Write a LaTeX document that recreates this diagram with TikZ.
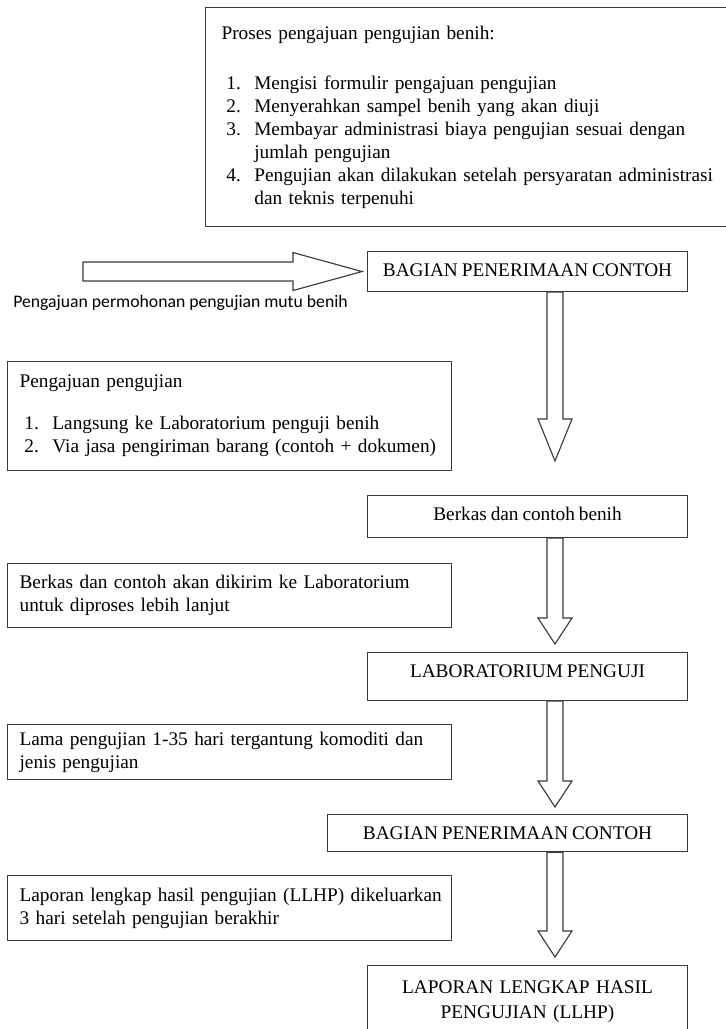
\documentclass[tikz,border=0pt]{standalone}
\usepackage{fontspec}
\setmainfont{Liberation Serif}[WordSpace=0.8]
\newfontfamily\calibrifont{Carlito}
\usetikzlibrary{calc, positioning}
\definecolor{garisAbu}{HTML}{3A3A3A}
\newcommand{\nomor}[1]{\hspace*{3pt}\makebox[17.4pt][l]{#1}}

\begin{document}
\begin{tikzpicture}[
        x=0.622pt, y=-0.622pt,
        font=\fontsize{12}{14.3}\selectfont,
        kotak/.style={
            draw=garisAbu,
            line width=0.7pt,
            anchor=north west
        },
        catatan/.style={
            kotak,
            align=left,
            inner xsep=7.5pt,
            inner ysep=0pt,
            text width=261.2pt,
            minimum width=276.2pt
        },
        judul/.style={
            kotak,
            align=center,
            inner sep=0pt,
            text height=15.55pt,
            minimum width=199pt
        },
        panah/.style={
            draw=garisAbu,
            line width=0.7pt,
            line join=miter,
            fill=white
        }
    ]

    % satuan: 1 = satu piksel gambar asli, sumbu y ke bawah
    \useasboundingbox (0,0) rectangle (726,1029);

    \node[catatan, inner xsep=9.95pt, text width=305.4pt,
        minimum width=325.3pt, minimum height=136.2pt] (proses) at (205,7)
        {Proses pengajuan pengujian benih:\\[16.8pt]
        \nomor{1.}Mengisi formulir pengajuan pengujian\\
        \nomor{2.}Menyerahkan sampel benih yang akan diuji\\
        \nomor{3.}\mbox{Membayar administrasi biaya pengujian sesuai dengan}\\
        \hspace*{20.4pt}jumlah pengujian\\
        \nomor{4.}\mbox{Pengujian akan dilakukan setelah persyaratan administrasi}\\
        \hspace*{20.4pt}dan teknis terpenuhi\par\vspace{7.7pt}};

    % kolom kanan
    \node[judul, text depth=9.3pt] (bagian1) at (367,251) {BAGIAN PENERIMAAN CONTOH};
    \node[judul, text depth=10.6pt] (berkas) at (367,495) {Berkas dan contoh benih};
    \node[judul, text depth=14.3pt] (lab) at (367,652) {LABORATORIUM PENGUJI};
    \node[judul, text depth=7.5pt, minimum width=223.9pt] (bagian2) at (327,814)
        {BAGIAN PENERIMAAN CONTOH};
    \node[kotak, align=center, text width=199pt, inner xsep=0pt, inner ysep=9.3pt]
        (llhp) at (367,965) {LAPORAN LENGKAP HASIL\\[1.5pt]PENGUJIAN (LLHP)};

    % kolom kiri
    \node[catatan, minimum height=67.8pt] (ajuan) at (7,361)
        {Pengajuan pengujian\\[11.8pt]
        \nomor{1.}Langsung ke Laboratorium penguji benih\\
        \nomor{2.}\mbox{Via jasa pengiriman barang (contoh + dokumen)}};
    \node[catatan, minimum height=39.8pt] (kirim) at (7,563)
        {\mbox{Berkas dan contoh akan dikirim ke Laboratorium}\\untuk diproses lebih lanjut};
    \node[catatan, minimum height=34.2pt] (lama) at (7,724)
        {\mbox{Lama pengujian 1-35 hari tergantung komoditi dan}\\jenis pengujian};
    \node[catatan, minimum height=40.4pt] (laporan) at (7,875)
        {\mbox{Laporan lengkap hasil pengujian (LLHP) dikeluarkan}\\3 hari setelah pengujian berakhir};

    \node[font=\calibrifont\fontsize{11}{13}\selectfont, anchor=base west, inner sep=0pt]
        (keterangan) at (13,307) {Pengajuan permohonan pengujian mutu benih};

    % panah blok
    \coordinate (sumbu) at (555,0);
    \coordinate (pangkal) at (83,271.5);
    \coordinate (t0) at ($(bagian1.west)+(-5,0)$);
    \draw[panah] ($(pangkal)+(0,-9.5)$) -- ($(t0)+(-69,-9.5)$) -- ($(t0)+(-69,-19)$)
        -- (t0) -- ($(t0)+(-69,19)$) -- ($(t0)+(-69,9.5)$) -- ($(pangkal)+(0,9.5)$) -- cycle;

    \coordinate (a1) at (bagian1.south -| sumbu);
    \coordinate (t1) at ($(berkas.north -| sumbu)+(0,-34)$);
    \draw[panah] ($(a1)+(-8,0)$) -- ($(a1)+(8,0)$) -- ($(t1)+(8,-42)$) -- ($(t1)+(17,-42)$)
        -- (t1) -- ($(t1)+(-17,-42)$) -- ($(t1)+(-8,-42)$) -- cycle;

    \coordinate (a2) at (berkas.south -| sumbu);
    \coordinate (t2) at ($(lab.north -| sumbu)+(0,-8)$);
    \draw[panah] ($(a2)+(-8,0)$) -- ($(a2)+(8,0)$) -- ($(t2)+(8,-26)$) -- ($(t2)+(17,-26)$)
        -- (t2) -- ($(t2)+(-17,-26)$) -- ($(t2)+(-8,-26)$) -- cycle;

    \coordinate (a3) at (lab.south -| sumbu);
    \coordinate (t3) at ($(bagian2.north -| sumbu)+(0,-7)$);
    \draw[panah] ($(a3)+(-8,0)$) -- ($(a3)+(8,0)$) -- ($(t3)+(8,-26)$) -- ($(t3)+(17,-26)$)
        -- (t3) -- ($(t3)+(-17,-26)$) -- ($(t3)+(-8,-26)$) -- cycle;

    \coordinate (a4) at (bagian2.south -| sumbu);
    \coordinate (t4) at ($(llhp.north -| sumbu)+(0,-8)$);
    \draw[panah] ($(a4)+(-8,0)$) -- ($(a4)+(8,0)$) -- ($(t4)+(8,-26)$) -- ($(t4)+(17,-26)$)
        -- (t4) -- ($(t4)+(-17,-26)$) -- ($(t4)+(-8,-26)$) -- cycle;

\end{tikzpicture}
\end{document}
